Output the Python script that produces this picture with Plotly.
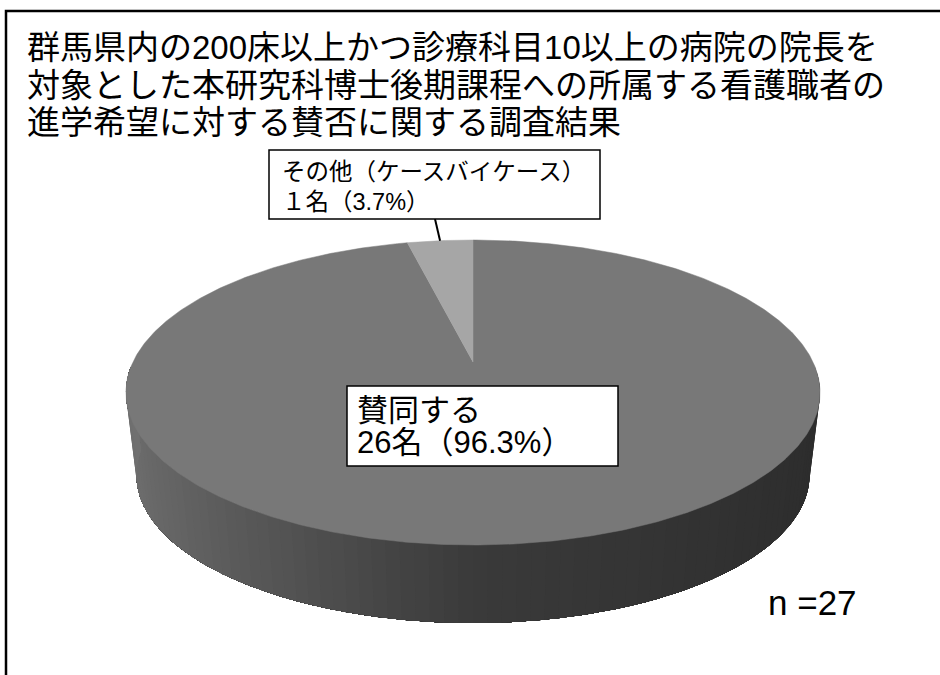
import math
import plotly.graph_objects as go

# ---------------- data ----------------
categories = ["賛同する", "その他（ケースバイケース）"]
counts = [26, 1]
title_lines = [
    "群馬県内の200床以上かつ診療科目10以上の病院の院長を",
    "対象とした本研究科博士後期課程への所属する看護職者の",
    "進学希望に対する賛否に関する調査結果",
]
total = sum(counts)
n_label = f"n ={total}"

# ---------------- style / geometry ----------------
W, H = 940, 675
CX, CY = 473.0, 362.0          # projected pie centre
A, B, K = 340.0, 146.4, 0.2    # perspective parameters
S, D = 0.97, 83.5              # bottom face scale / depth
top_colors = ["#787878", "#a6a6a6"]
JP = "Liberation Sans, Noto Sans CJK JP"
SIDE_START, SIDE_END = 92.0, 268.0


def proj(theta_deg, bottom=False):
    t = math.radians(theta_deg)
    u, v = math.sin(t), math.cos(t)
    w = 1 + K * v
    if bottom:
        return CX + S * A * u / w, CY + D - S * B * v / w
    return CX + A * u / w, CY - B * v / w


def side_gray(theta_deg):
    u = math.sin(math.radians(theta_deg))
    c = 58 + 54 * (-u) if u < 0 else 58 - 14 * u
    c = int(round(c))
    return f"rgb({c},{c},{c})"


def arc(a0, a1, bottom=False, n=None):
    if n is None:
        n = max(4, int(abs(a1 - a0) * 2))
    pts = [proj(a0 + (a1 - a0) * i / n, bottom) for i in range(n + 1)]
    return [p[0] for p in pts], [p[1] for p in pts]


fig = go.Figure()

# side of the cylinder (front half): each layer spans from its start angle to the
# end, so later layers overlap earlier ones and no seams appear
step = 2.0
th = SIDE_START
while th < SIDE_END - 1e-9:
    tx, ty = arc(th, SIDE_END)
    bx, by = arc(SIDE_END, th, bottom=True)
    col = side_gray(min(th + step / 2, SIDE_END))
    fig.add_trace(go.Scatter(x=tx + bx + [tx[0]], y=ty + by + [ty[0]], mode="lines",
                             fill="toself", fillcolor=col, line=dict(width=0),
                             hoverinfo="skip", showlegend=False))
    th += step

# top faces of the slices (clockwise from 12 o'clock)
start = 0.0
mid_angles = []
for cat, cnt, col in zip(categories, counts, top_colors):
    sweep = 360.0 * cnt / total
    ax, ay = arc(start, start + sweep)
    fig.add_trace(go.Scatter(x=[CX] + ax + [CX], y=[CY] + ay + [CY], mode="lines",
                             fill="toself", fillcolor=col,
                             line=dict(color=col, width=0.5),
                             name=cat, hoverinfo="skip", showlegend=False))
    mid_angles.append(start + sweep / 2)
    start += sweep


def zen(cnt):
    s = str(cnt)
    if len(s) == 1:
        return chr(ord(s) + 0xFEE0)
    return s


pct_text = [f"{zen(c)}名（{100 * c / total:.1f}%）" for c in counts]

shapes = []
annotations = []

# outer frame
shapes.append(dict(type="rect", xref="x", yref="y", x0=6, y0=11, x1=960, y1=700,
                   line=dict(color="black", width=2.5), fillcolor="rgba(0,0,0,0)"))

# label for その他
lx, ly = proj(mid_angles[1])
shapes.append(dict(type="line", xref="x", yref="y", x0=435, y0=219, x1=lx, y1=ly,
                   line=dict(color="black", width=2)))
shapes.append(dict(type="rect", xref="x", yref="y", x0=269, y0=150, x1=600, y1=219,
                   line=dict(color="black", width=1.5), fillcolor="white"))
annotations.append(dict(x=280, y=172, text=categories[1], xanchor="left", yanchor="middle",
                        height=28, font=dict(size=23.5, family=JP, color="black")))
annotations.append(dict(x=280, y=202, text=pct_text[1], xanchor="left", yanchor="middle",
                        height=28, font=dict(size=23.5, family=JP, color="black")))

# label for 賛同する
shapes.append(dict(type="rect", xref="x", yref="y", x0=347, y0=386, x1=618, y1=466,
                   line=dict(color="black", width=1.5), fillcolor="white"))
annotations.append(dict(x=355, y=410, text=categories[0], xanchor="left", yanchor="middle",
                        height=31, font=dict(size=31, family=JP, color="black")))
annotations.append(dict(x=355, y=442, text=pct_text[0], xanchor="left", yanchor="middle",
                        height=31, font=dict(size=31, family=JP, color="black")))

# title lines
for i, line in enumerate(title_lines):
    annotations.append(dict(x=25, y=47 + 37.5 * i, text=line, xanchor="left",
                            yanchor="middle", height=36,
                            font=dict(size=33, family=JP, color="black")))

# n label
annotations.append(dict(x=766, y=602, text=n_label, xanchor="left", yanchor="middle",
                        font=dict(size=35, family="Liberation Sans", color="black")))

for a in annotations:
    a.update(xref="x", yref="y", showarrow=False)

fig.update_layout(
    width=W, height=H,
    margin=dict(l=0, r=0, t=0, b=0),
    paper_bgcolor="white", plot_bgcolor="white",
    xaxis=dict(range=[0, W], visible=False, fixedrange=True),
    yaxis=dict(range=[H, 0], visible=False, fixedrange=True),
    shapes=shapes, annotations=annotations, showlegend=False,
)

fig.write_html("out.html")
